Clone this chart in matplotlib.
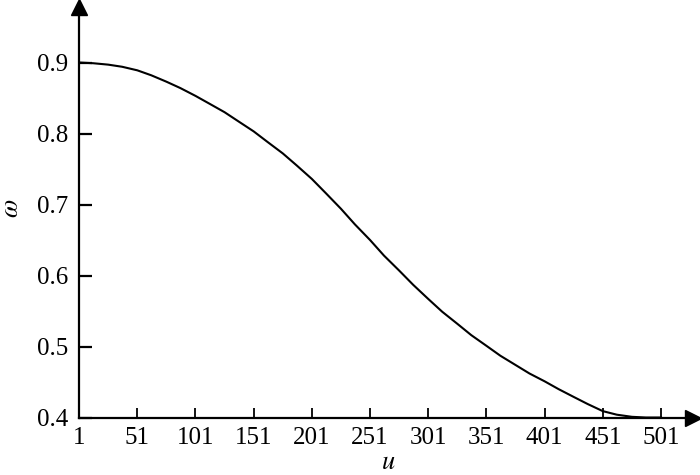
import matplotlib
matplotlib.use("Agg")
import matplotlib.pyplot as plt

# values
u = [1, 13, 26, 38, 51, 63, 76, 88, 101, 113, 126, 138, 151, 163, 176, 188,
     201, 213, 226, 238, 251, 263, 276, 288, 301, 313, 326, 338, 351, 363,
     376, 388, 401, 413, 426, 438, 451, 463, 476, 488, 501]
w = [0.900, 0.899, 0.897, 0.894, 0.889, 0.882, 0.873, 0.864, 0.853, 0.842,
     0.830, 0.817, 0.803, 0.788, 0.772, 0.755, 0.736, 0.716, 0.694, 0.672,
     0.650, 0.628, 0.607, 0.587, 0.567, 0.549, 0.532, 0.516, 0.501, 0.487,
     0.474, 0.462, 0.451, 0.440, 0.429, 0.419, 0.409, 0.404, 0.401, 0.400,
     0.400]
xticks = [1, 51, 101, 151, 201, 251, 301, 351, 401, 451, 501]
yticks = [0.4, 0.5, 0.6, 0.7, 0.8, 0.9]

plt.rcParams['font.family'] = ['Liberation Serif', 'DejaVu Serif']
plt.rcParams['mathtext.fontset'] = 'stix'

fig = plt.figure(figsize=(7, 4.75), dpi=100)
ax = fig.add_axes([0.113, 0.121, 0.877, 0.864])

ax.plot(u, w, color='black', lw=1.5)

ax.set_xlim(1, 528.5)
ax.set_ylim(0.4, 0.978)
ax.set_xticks(xticks)
ax.set_yticks(yticks)
ax.set_xticklabels([str(t) for t in xticks])
ax.set_yticklabels(['%.1f' % t for t in yticks])

for s in ['top', 'right']:
    ax.spines[s].set_visible(False)
for s in ['left', 'bottom']:
    ax.spines[s].set_linewidth(1.6)

ax.tick_params(axis='y', direction='in', length=9, width=1.6, labelsize=18, pad=8)
ax.tick_params(axis='x', direction='in', length=7, width=1.3, labelsize=18, pad=7)

# arrow heads at the ends of the axes
ax.plot([0], [1], marker='^', color='black', markersize=12,
        transform=ax.transAxes, clip_on=False)
ax.plot([1], [0], marker='>', color='black', markersize=12,
        transform=ax.transAxes, clip_on=False)

# axis titles placed by hand, as in the reference
fig.text(388 / 700, 1 - 463 / 475, r'$u$', fontsize=19, ha='center', va='center')
fig.text(12 / 700, 1 - 208 / 475, r'$\omega$', fontsize=19, ha='center',
         va='center', rotation=90)

fig.savefig('out.png', dpi=100)
